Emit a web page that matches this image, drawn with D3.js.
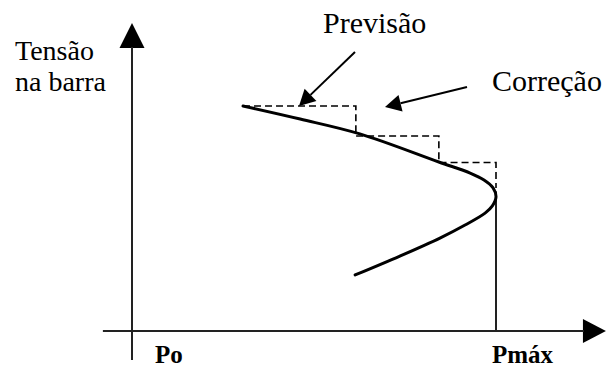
<!DOCTYPE html>
<html>
<head>
<meta charset="utf-8">
<script src="https://cdn.jsdelivr.net/npm/d3@7/dist/d3.min.js"></script>
<style>
  html, body { margin: 0; padding: 0; background: #fff; }
  svg { display: block; }
</style>
</head>
<body>
<svg id="chart" width="614" height="367"></svg>
<script>
// P-V nose curve: active power (P) against bus voltage (V), Pmax = 100
const curveP = [30.5, 46.2, 62.6, 84.3, 92.9, 96.7, 99.2, 100, 99.0, 97.0, 91.5, 84.6, 73.6, 61.3];
const curveV = [1.000, 0.942, 0.876, 0.751, 0.702, 0.671, 0.636, 0.596, 0.556, 0.524, 0.471, 0.413, 0.333, 0.249];

// Predictor (horizontal) / corrector (vertical) continuation steps
const stepP = [30.5, 61.5, 84.3, 100];
const stepV = [1.000, 0.867, 0.749, 0.636];

// Axis labels
const yLabelLines = ["Tensão", "na barra"];
const xTickLabels = [{ p: 0, label: "Po" }, { p: 100, label: "Pmáx" }];
const annotations = [
  { label: "Previsão", from: [355, 52], to: [299, 106] },
  { label: "Correção", from: [467, 87], to: [385, 107] }
];

const SERIF = "Liberation Serif";

const svg = d3.select("#chart");
const x = d3.scaleLinear().domain([0, 100]).range([132, 496]);
const y = d3.scaleLinear().domain([0, 1]).range([331, 106]);

// arrowhead helper: filled triangle with tip at (tx,ty), pointing away from (fx,fy)
function arrowHead(fx, fy, tx, ty, len, half) {
  const a = Math.atan2(ty - fy, tx - fx);
  const bx = tx - len * Math.cos(a), by = ty - len * Math.sin(a);
  const nx = -Math.sin(a) * half, ny = Math.cos(a) * half;
  svg.append("path")
    .attr("d", `M${tx},${ty}L${bx + nx},${by + ny}L${bx - nx},${by - ny}Z`)
    .attr("fill", "#000");
  return [bx, by];
}

// axes
const xAxisFrom = -8, xAxisTo = 130.2;
const yAxisFrom = -0.129, yAxisTo = 1.369;

const xb = arrowHead(x(xAxisFrom), y(0), x(xAxisTo), y(0), 23, 12);
svg.append("line")
  .attr("x1", x(xAxisFrom)).attr("y1", y(0))
  .attr("x2", xb[0] + 1).attr("y2", y(0))
  .attr("stroke", "#222").attr("stroke-width", 2);

const yb = arrowHead(x(0), y(yAxisFrom), x(0), y(yAxisTo), 25, 12.5);
svg.append("line")
  .attr("x1", x(0)).attr("y1", y(yAxisFrom))
  .attr("x2", x(0)).attr("y2", yb[1] - 1)
  .attr("stroke", "#222").attr("stroke-width", 2);

// Pmax vertical
svg.append("line")
  .attr("x1", x(100)).attr("y1", y(0))
  .attr("x2", x(100)).attr("y2", y(0.62))
  .attr("stroke", "#222").attr("stroke-width", 2);

// predictor-corrector staircase
const stepLine = d3.line()
  .x(d => x(d[0])).y(d => y(d[1]))
  .curve(d3.curveStepAfter);
svg.append("path")
  .datum(stepP.map((p, i) => [p, stepV[i]]))
  .attr("d", stepLine)
  .attr("fill", "none")
  .attr("stroke", "#000")
  .attr("stroke-width", 1.6)
  .attr("stroke-dasharray", "7,4");

// PV curve
const pvLine = d3.line()
  .x(d => x(d[0])).y(d => y(d[1]))
  .curve(d3.curveCatmullRom.alpha(0.5));
svg.append("path")
  .datum(curveP.map((p, i) => [p, curveV[i]]))
  .attr("d", pvLine)
  .attr("fill", "none")
  .attr("stroke", "#000")
  .attr("stroke-width", 3)
  .attr("stroke-linecap", "round");

// y label (two lines)
yLabelLines.forEach((t, i) => {
  svg.append("text")
    .attr("x", 15).attr("y", 60 + i * 31)
    .attr("font-family", SERIF)
    .attr("font-size", 28)
    .text(t);
});

// x labels
svg.selectAll("text.xt").data(xTickLabels).join("text")
  .attr("class", "xt")
  .attr("x", d => x(d.p) + (d.p === 0 ? 23 : -4))
  .attr("y", 363)
  .attr("font-family", SERIF)
  .attr("font-size", 25)
  .attr("font-weight", "bold")
  .text(d => d.label);

// annotations
const annPos = { "Previsão": [323, 33], "Correção": [492, 91] };
annotations.forEach(a => {
  const b = arrowHead(a.from[0], a.from[1], a.to[0], a.to[1], 16, 8.5);
  svg.append("line")
    .attr("x1", a.from[0]).attr("y1", a.from[1])
    .attr("x2", b[0]).attr("y2", b[1])
    .attr("stroke", "#000").attr("stroke-width", 2);
  svg.append("text")
    .attr("x", annPos[a.label][0]).attr("y", annPos[a.label][1])
    .attr("font-family", SERIF)
    .attr("font-size", 30)
    .text(a.label);
});
</script>
</body>
</html>
